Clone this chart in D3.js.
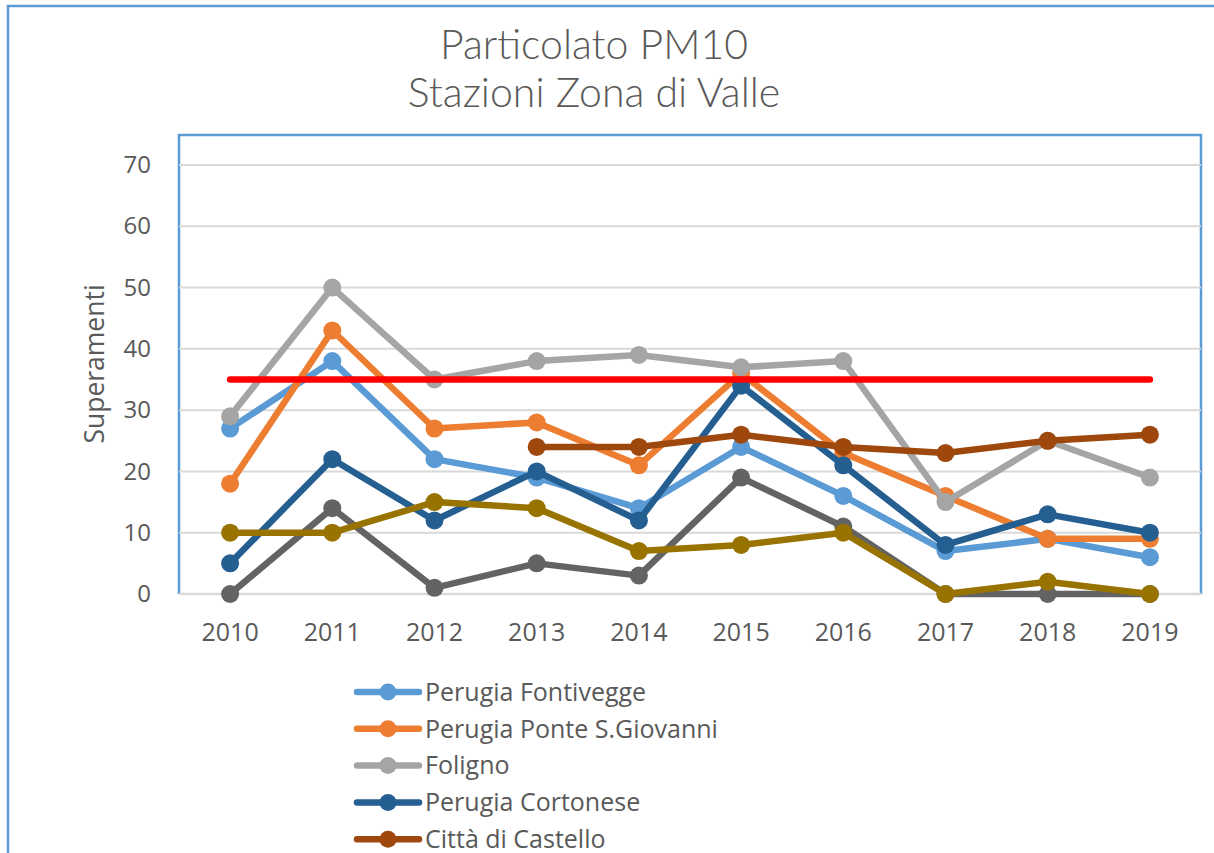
<!DOCTYPE html>
<html>
<head>
<meta charset="utf-8">
<script src="https://cdn.jsdelivr.net/npm/d3@7"></script>
<style>
  html, body { margin: 0; padding: 0; background: #fff; overflow: hidden; }
  svg { display: block; }
  text { font-family: "Open Sans", Lato, sans-serif; fill: #595959; }
</style>
</head>
<body>
<svg id="chart" width="1214" height="853"></svg>
<script>
// ---- Data ----
const years = ["2010","2011","2012","2013","2014","2015","2016","2017","2018","2019"];
const yTicks = [0, 10, 20, 30, 40, 50, 60, 70];

const fontivegge   = [27, 38, 22, 19, 14, 24, 16, 7, 9, 6];
const ponteSGiov   = [18, 43, 27, 28, 21, 36, 23, 16, 9, 9];
const foligno      = [29, 50, 35, 38, 39, 37, 38, 15, 25, 19];
const cortonese    = [5, 22, 12, 20, 12, 34, 21, 8, 13, 10];
const castello     = [null, null, null, 24, 24, 26, 24, 23, 25, 26];
const spoleto      = [0, 14, 1, 5, 3, 19, 11, 0, 0, 0];
const gubbio       = [10, 10, 15, 14, 7, 8, 10, 0, 2, 0];
const limite       = [35, 35, 35, 35, 35, 35, 35, 35, 35, 35];

const seriesNames  = ["Perugia Fontivegge", "Perugia Ponte S.Giovanni", "Foligno", "Perugia Cortonese", "Città di Castello", "Spoleto", "Gubbio", "Limite"];
const seriesColors = ["#5B9BD5", "#ED7D31", "#A5A5A5", "#255E91", "#9E480E", "#636363", "#997300", "#FF0000"];
const seriesValues = [fontivegge, ponteSGiov, foligno, cortonese, castello, spoleto, gubbio, limite];
const seriesMarkers = [true, true, true, true, true, true, true, false];

const titleLines = ["Particolato PM10", "Stazioni Zona di Valle"];
const yTitle = "Superamenti";

// ---- Layout ----
const svg = d3.select("#chart");
const W = 1214, H = 853;
const plot = { left: 179, top: 135, right: 1201, bottom: 594 };

svg.append("rect").attr("x", 0).attr("y", 0).attr("width", W).attr("height", H).attr("fill", "#fff");
// outer chart border (extends beyond view)
svg.append("rect").attr("x", 8).attr("y", 6).attr("width", W + 20).attr("height", H + 20)
  .attr("fill", "none").attr("stroke", "#5B9BD5").attr("stroke-width", 2.5);

const x = d3.scaleBand().domain(years).range([plot.left, plot.right]);
const y = d3.scaleLinear().domain([0, 70]).range([594, 165]);
const cx = d => x(d) + x.bandwidth() / 2;

// plot area border (left, top, right)
svg.append("path")
  .attr("d", `M${plot.left},${plot.bottom} V${plot.top} H${plot.right} V${plot.bottom}`)
  .attr("fill", "none").attr("stroke", "#5B9BD5").attr("stroke-width", 2.5);

// gridlines
svg.append("g").selectAll("line").data(yTicks).join("line")
  .attr("x1", plot.left).attr("x2", plot.right)
  .attr("y1", d => y(d)).attr("y2", d => y(d))
  .attr("stroke", "#D9D9D9").attr("stroke-width", d => d === 0 ? 2.5 : 2);

// y axis labels
const yAxis = d3.axisLeft(y).tickValues(yTicks).tickSize(0).tickPadding(0);
const gy = svg.append("g").attr("transform", "translate(151,0)").call(yAxis);
gy.select(".domain").remove();
gy.selectAll("text").attr("font-size", 24).attr("fill", "#595959").style("font-family", "'Open Sans', Lato, sans-serif");

// x axis labels
const xAxis = d3.axisBottom(x).tickSize(0).tickPadding(0);
const gx = svg.append("g").attr("transform", "translate(0,623)").call(xAxis);
gx.select(".domain").remove();
gx.selectAll("text").attr("font-size", 25).attr("fill", "#595959").style("font-family", "'Open Sans', Lato, sans-serif");

// axis title
svg.append("text").attr("transform", "translate(104,364) rotate(-90)")
  .attr("text-anchor", "middle").attr("font-size", 26.5).text(yTitle);

// title
svg.append("g").selectAll("text").data(titleLines).join("text")
  .attr("x", 594).attr("y", (d, i) => 59 + i * 48)
  .attr("text-anchor", "middle").attr("font-size", 41).attr("font-weight", 300)
  .style("font-family", "Lato, 'Open Sans', sans-serif")
  .text(d => d);

// series
const line = d3.line().defined(d => d.v !== null).x(d => cx(d.year)).y(d => y(d.v));
seriesValues.forEach((vals, i) => {
  const pts = years.map((yr, j) => ({ year: yr, v: vals[j] }));
  const g = svg.append("g");
  g.append("path").datum(pts).attr("d", line)
    .attr("fill", "none").attr("stroke", seriesColors[i]).attr("stroke-width", 6.5)
    .attr("stroke-linejoin", "round").attr("stroke-linecap", "round");
  if (seriesMarkers[i]) {
    g.selectAll("circle").data(pts.filter(d => d.v !== null)).join("circle")
      .attr("cx", d => cx(d.year)).attr("cy", d => y(d.v)).attr("r", 9)
      .attr("fill", seriesColors[i]);
  }
});

// legend
const leg = svg.append("g");
seriesNames.forEach((name, i) => {
  const ly = 692 + i * 36.8;
  const g = leg.append("g");
  g.append("line").attr("x1", 357).attr("x2", 419).attr("y1", ly).attr("y2", ly)
    .attr("stroke", seriesColors[i]).attr("stroke-width", 6.5).attr("stroke-linecap", "round");
  if (seriesMarkers[i]) {
    g.append("circle").attr("cx", 388).attr("cy", ly).attr("r", 8.5).attr("fill", seriesColors[i]);
  }
  g.append("text").attr("x", 425).attr("y", ly).attr("dy", "0.35em")
    .attr("font-size", 25).text(name);
});
</script>
</body>
</html>
